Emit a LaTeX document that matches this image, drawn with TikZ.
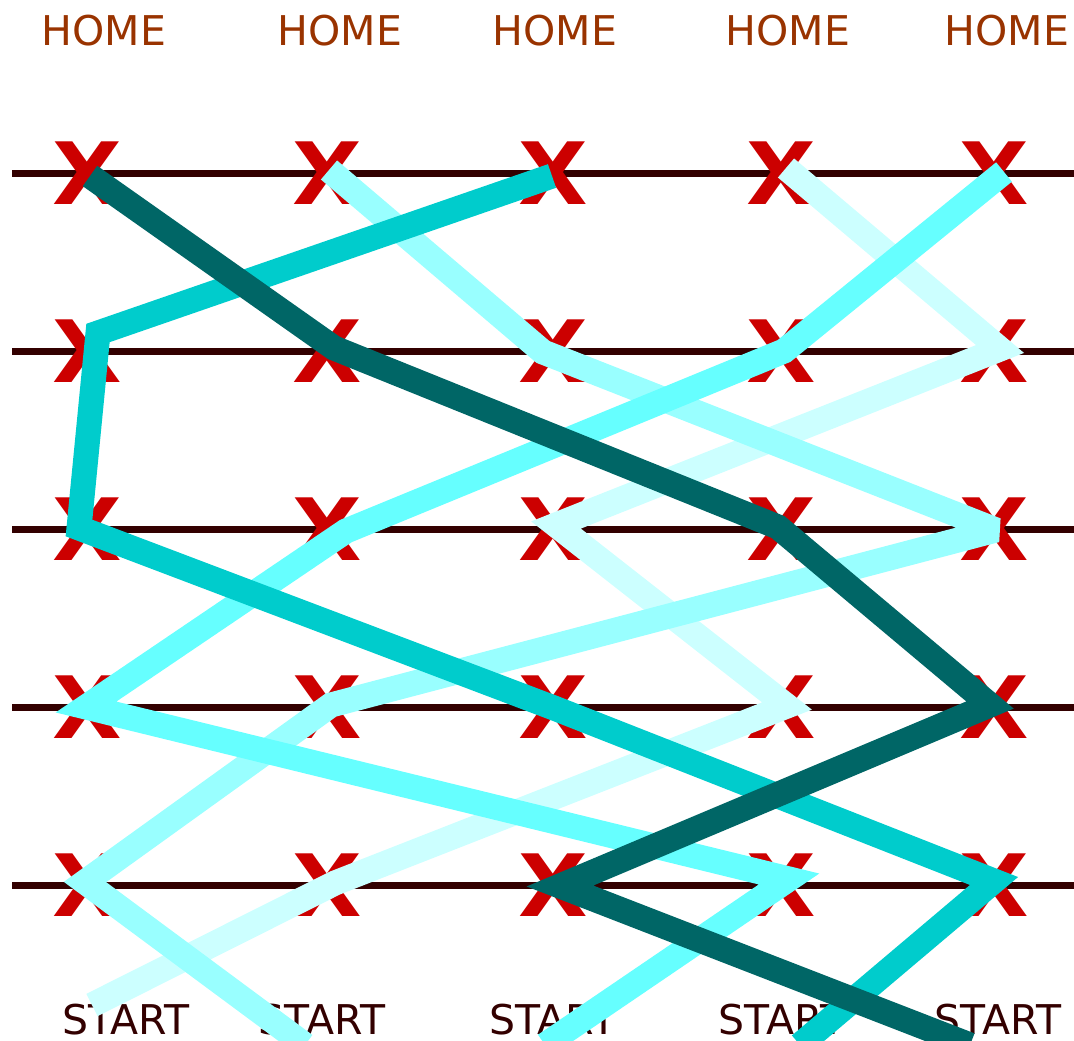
\documentclass[tikz,border=0pt]{standalone}
\usepackage{fontspec}
\setmainfont{DejaVu Sans}
\newfontfamily\markfont{DejaVu Sans}
\definecolor{homec}{HTML}{993300}
\definecolor{startc}{HTML}{330000}
\definecolor{railc}{HTML}{330000}
\definecolor{markc}{HTML}{CC0000}
\definecolor{pa}{HTML}{006666}
\definecolor{pb}{HTML}{00CCCC}
\definecolor{pc}{HTML}{66FFFF}
\definecolor{pd}{HTML}{99FFFF}
\definecolor{pe}{HTML}{CCFFFF}
\tikzset{
  rail/.style={draw=railc, line width=7pt},
  xmark/.style={text=markc, inner sep=0pt, xscale=1.05, font=\markfont\bfseries\fontsize{86}{86}\selectfont},
  homelbl/.style={text=homec, inner sep=0pt, anchor=base, font=\fontsize{41}{41}\selectfont},
  startlbl/.style={text=startc, inner sep=0pt, anchor=base, font=\fontsize{41}{41}\selectfont},
  pathline/.style={line width=25pt, line cap=butt, line join=miter, miter limit=2.75},
}
\begin{document}
\begin{tikzpicture}[x=1pt,y=-1pt]
\useasboundingbox (0,0) rectangle (1074,1041);
\clip (0,0) rectangle (1074,1041);
% rails
\foreach \r/\y in {1/173,2/351,3/529,4/707,5/885}{
  \coordinate (rl\r) at (12,\y);
  \coordinate (rr\r) at (1074,\y);
  \draw[rail] (rl\r) -- (rr\r);
}
% X marks
\foreach \r/\y in {1/173,2/351,3/529,4/707,5/885}{
  \foreach \c/\x in {1/87,2/327,3/553,4/781,5/994}{
    \node[xmark] (x\r\c) at (\x,\y) {X};
  }
}
% labels
\node[homelbl] (h1) at (104,46) {HOME};
\node[homelbl] (h2) at (340,46) {HOME};
\node[homelbl] (h3) at (555,46) {HOME};
\node[homelbl] (h4) at (788,46) {HOME};
\node[homelbl] (h5) at (1007,46) {HOME};
\node[startlbl] (s1) at (126,1034) {START};
\node[startlbl] (s2) at (322,1034) {START};
\node[startlbl] (s3) at (553,1034) {START};
\node[startlbl] (s4) at (782,1034) {START};
\node[startlbl] (s5) at (998,1034) {START};
% path vertices
\coordinate (e0) at (92,1005);
\coordinate (e1) at (335,883);
\coordinate (e2) at (787,706);
\coordinate (e3) at (556,525);
\coordinate (e4) at (1000,349);
\coordinate (e5) at (786,168);
\coordinate (d0) at (305,1045);
\coordinate (d1) at (85,882);
\coordinate (d2) at (331,705);
\coordinate (d3) at (996,530);
\coordinate (d4) at (543,352);
\coordinate (d5) at (329,170);
\coordinate (c0) at (545,1045);
\coordinate (c1) at (789,879);
\coordinate (c2) at (86,707);
\coordinate (c3) at (346,531);
\coordinate (c4) at (784,351);
\coordinate (c5) at (1004,172);
\coordinate (b0) at (800,1045);
\coordinate (b1) at (994,881);
\coordinate (b2) at (554,708);
\coordinate (b3) at (79,528);
\coordinate (b4) at (98,333);
\coordinate (b5) at (552,176);
\coordinate (a0) at (970,1045);
\coordinate (a1) at (560,886);
\coordinate (a2) at (990,705);
\coordinate (a3) at (778,527);
\coordinate (a4) at (334,348);
\coordinate (a5) at (90,176);
% paths
\draw[pathline, draw=pe] (e0) -- (e1) -- (e2) -- (e3) -- (e4) -- (e5);
\draw[pathline, draw=pd] (d0) -- (d1) -- (d2) -- (d3) -- (d4) -- (d5);
\draw[pathline, draw=pc] (c0) -- (c1) -- (c2) -- (c3) -- (c4) -- (c5);
\draw[pathline, draw=pb] (b0) -- (b1) -- (b2) -- (b3) -- (b4) -- (b5);
\draw[pathline, draw=pa] (a0) -- (a1) -- (a2) -- (a3) -- (a4) -- (a5);
\end{tikzpicture}
\end{document}
